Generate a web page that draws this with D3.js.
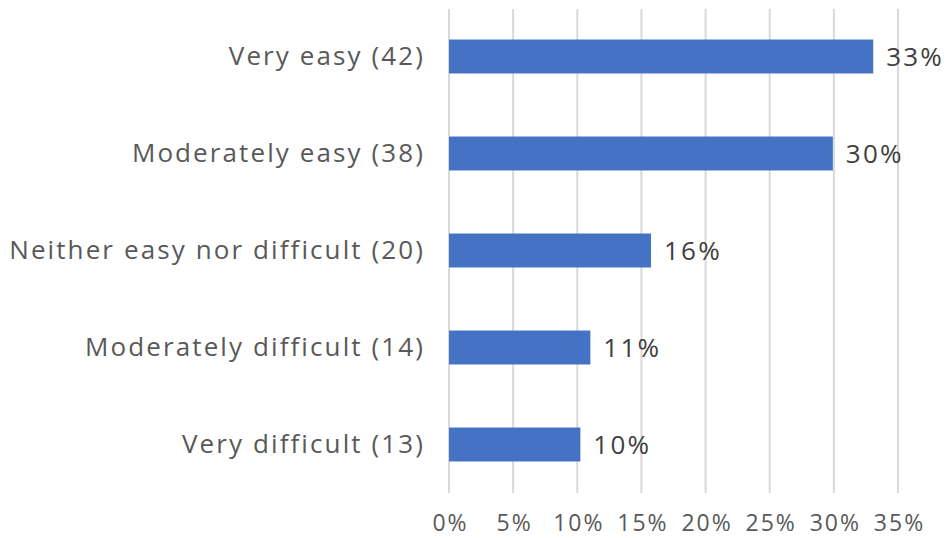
<!DOCTYPE html>
<html>
<head>
<meta charset="utf-8">
<script src="https://cdn.jsdelivr.net/npm/d3@7/dist/d3.min.js"></script>
<style>
  html, body { margin: 0; padding: 0; background: #fff; }
  svg text { font-family: "Open Sans", "Noto Sans", sans-serif; }
</style>
</head>
<body>
<svg id="chart" width="947" height="538"></svg>
<script>
const categories = ["Very easy (42)", "Moderately easy (38)", "Neither easy nor difficult (20)", "Moderately difficult (14)", "Very difficult (13)"];
const values = [33.07, 29.92, 15.75, 11.02, 10.24];
const valueLabels = ["33%", "30%", "16%", "11%", "10%"];
const tickValues = [0, 5, 10, 15, 20, 25, 30, 35];

const svg = d3.select("#chart");
const margin = { left: 449, right: 49, top: 8, bottom: 45 };
const W = 947, H = 538;

const x = d3.scaleLinear().domain([0, 35]).range([margin.left, W - margin.right]);
const y = d3.scaleBand().domain(categories).range([margin.top, H - margin.bottom]).paddingInner(0.65).paddingOuter(0.325);

// gridlines
svg.append("g").selectAll("line").data(tickValues).join("line")
  .attr("x1", d => x(d)).attr("x2", d => x(d))
  .attr("y1", 9).attr("y2", 493)
  .attr("stroke", "#d9d9d9").attr("stroke-width", 2);

// x axis labels
const xAxis = d3.axisBottom(x).tickValues(tickValues).tickFormat(d => d + "%").tickSize(0).tickPadding(0);
const gx = svg.append("g").attr("transform", "translate(1,515)").call(xAxis);
gx.select(".domain").remove();
gx.selectAll("text").attr("font-size", 23).attr("fill", "#595959")
  .attr("letter-spacing", "2px")
  .style("font-family", "'Open Sans', sans-serif");

// bars
svg.append("g").selectAll("rect").data(values).join("rect")
  .attr("x", x(0))
  .attr("y", (d, i) => y(categories[i]))
  .attr("width", d => x(d) - x(0))
  .attr("height", y.bandwidth())
  .attr("fill", "#4472C4");

// category labels
const yAxis = d3.axisLeft(y).tickSize(0).tickPadding(24);
const gy = svg.append("g").attr("transform", `translate(${x(0)},0)`).call(yAxis);
gy.select(".domain").remove();
gy.selectAll("text").attr("font-size", 26).attr("fill", "#595959")
  .attr("letter-spacing", "2.1px")
  .style("font-family", "'Open Sans', sans-serif");

// value labels
svg.append("g").selectAll("text").data(values).join("text")
  .attr("x", d => x(d) + 13)
  .attr("y", (d, i) => y(categories[i]) + y.bandwidth() / 2)
  .attr("dy", "0.35em")
  .attr("font-size", 26)
  .attr("letter-spacing", "2.2px")
  .attr("fill", "#404040")
  .text((d, i) => valueLabels[i]);
</script>
</body>
</html>
